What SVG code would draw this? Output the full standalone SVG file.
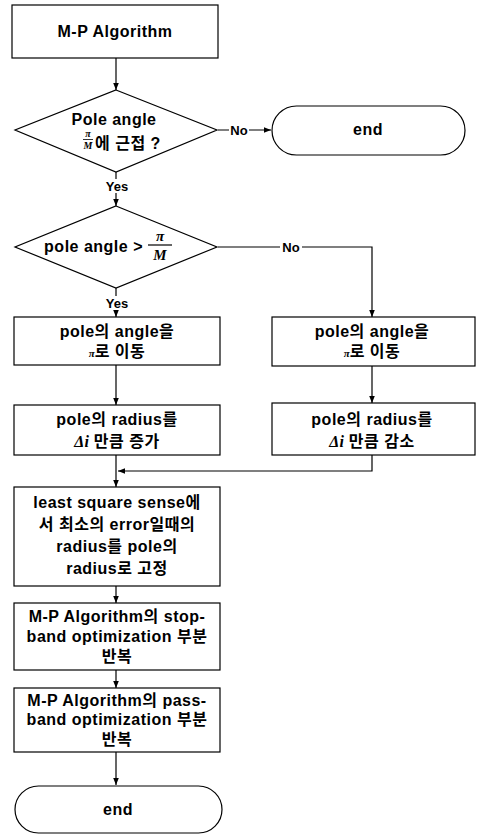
<svg xmlns="http://www.w3.org/2000/svg" width="478" height="835" viewBox="0 0 478 835">
<style>
.s{fill:#fff;stroke:#000;stroke-width:1.2}
.c{fill:none;stroke:#000;stroke-width:1.2}
.t{font-family:"Liberation Sans","Noto Sans CJK KR",sans-serif;font-size:16px;font-weight:bold;letter-spacing:0.5px;text-anchor:middle;fill:#000}
.l{font-family:"Liberation Sans","Noto Sans CJK KR",sans-serif;font-size:13px;font-weight:bold;text-anchor:middle;fill:#000}
.m{font-family:"Liberation Serif","DejaVu Serif",serif;font-style:italic;font-weight:bold;letter-spacing:0;text-anchor:middle;fill:#000}
</style>
<defs>
<marker id="a" viewBox="0 0 10 10" refX="10" refY="5" markerWidth="6" markerHeight="6" orient="auto"><path d="M0,1 L10,5 L0,9 z" fill="#000"/></marker>
</defs>
<rect width="478" height="835" fill="#fff"/>
<g id="connectors">
<line class="c" x1="116" y1="58" x2="116" y2="90" marker-end="url(#a)"/>
<line class="c" x1="218" y1="130" x2="271" y2="130" marker-end="url(#a)"/>
<line class="c" x1="116" y1="172" x2="116" y2="206" marker-end="url(#a)"/>
<polyline class="c" points="218,247 372,247 372,317" marker-end="url(#a)"/>
<line class="c" x1="116" y1="288" x2="116" y2="317" marker-end="url(#a)"/>
<line class="c" x1="116" y1="365" x2="116" y2="405" marker-end="url(#a)"/>
<line class="c" x1="372" y1="366" x2="372" y2="403" marker-end="url(#a)"/>
<polyline class="c" points="372,455 372,471 118,471" marker-end="url(#a)"/>
<line class="c" x1="116" y1="455" x2="116" y2="487" marker-end="url(#a)"/>
<line class="c" x1="116" y1="586" x2="116" y2="603" marker-end="url(#a)"/>
<line class="c" x1="116" y1="670" x2="116" y2="688" marker-end="url(#a)"/>
<line class="c" x1="116" y1="752" x2="116" y2="785" marker-end="url(#a)"/>
<rect x="229" y="123" width="20" height="14" fill="#fff"/>
<text class="l" x="239" y="135">No</text>
<rect x="106" y="179" width="22" height="14" fill="#fff"/>
<text class="l" x="117" y="191">Yes</text>
<rect x="280" y="240" width="22" height="14" fill="#fff"/>
<text class="l" x="291" y="252">No</text>
<rect x="106" y="296" width="22" height="14" fill="#fff"/>
<text class="l" x="117" y="308">Yes</text>
</g>
<g id="start">
<rect class="s" x="12" y="5" width="206" height="53"/>
<text class="t" x="115" y="37">M-P Algorithm</text>
</g>
<g id="decision1">
<polygon class="s" points="116,90 217,130 116,172 15,130"/>
<text class="t" x="114" y="125">Pole angle</text>
<text class="m" x="88" y="137" font-size="10">π</text>
<line x1="83" y1="139.5" x2="93" y2="139.5" stroke="#000" stroke-width="0.8"/>
<text class="m" x="88" y="149" font-size="10">M</text>
<text class="t" x="95" y="149" style="text-anchor:start">에 근접 ?</text>
</g>
<g id="end1">
<rect class="s" x="272" y="106" width="193" height="49" rx="24.5"/>
<text class="t" x="368" y="135">end</text>
</g>
<g id="decision2">
<polygon class="s" points="116,206 217,247 116,288 15,247"/>
<text class="t" x="143" y="252" style="text-anchor:end">pole angle &gt;</text>
<text class="m" x="160" y="241" font-size="15">π</text>
<line x1="148" y1="245" x2="172" y2="245" stroke="#000" stroke-width="1.2"/>
<text class="m" x="160" y="260" font-size="15">M</text>
</g>
<g id="moveLeft">
<rect class="s" x="14" y="317" width="206" height="48"/>
<text class="t" x="117" y="337">pole의 angle을</text>
<text class="t" x="117" y="357"><tspan class="m" font-size="11">π</tspan>로 이동</text>
</g>
<g id="moveRight">
<rect class="s" x="272" y="317" width="203" height="49"/>
<text class="t" x="372" y="337">pole의 angle을</text>
<text class="t" x="372" y="357"><tspan class="m" font-size="11">π</tspan>로 이동</text>
</g>
<g id="incRadius">
<rect class="s" x="14" y="405" width="206" height="50"/>
<text class="t" x="117" y="425">pole의 radius를</text>
<text class="t" x="117" y="447"><tspan class="m">Δi</tspan>  만큼 증가</text>
</g>
<g id="decRadius">
<rect class="s" x="272" y="403" width="203" height="52"/>
<text class="t" x="372" y="425">pole의 radius를</text>
<text class="t" x="372" y="447"><tspan class="m">Δi</tspan> 만큼 감소</text>
</g>
<g id="fixRadius">
<rect class="s" x="14" y="487" width="206" height="99"/>
<text class="t" x="117" y="508">least square sense에</text>
<text class="t" x="117" y="530">서 최소의 error일때의</text>
<text class="t" x="117" y="552">radius를 pole의</text>
<text class="t" x="117" y="574">radius로 고정</text>
</g>
<g id="stopband">
<rect class="s" x="14" y="603" width="206" height="67"/>
<text class="t" x="117" y="622">M-P Algorithm의 stop-</text>
<text class="t" x="117" y="642">band optimization 부분</text>
<text class="t" x="117" y="662">반복</text>
</g>
<g id="passband">
<rect class="s" x="14" y="688" width="206" height="64"/>
<text class="t" x="117" y="706">M-P Algorithm의 pass-</text>
<text class="t" x="117" y="725">band optimization 부분</text>
<text class="t" x="117" y="745">반복</text>
</g>
<g id="end2">
<rect class="s" x="15" y="786" width="207" height="47" rx="23.5"/>
<text class="t" x="118" y="815">end</text>
</g>
</svg>
